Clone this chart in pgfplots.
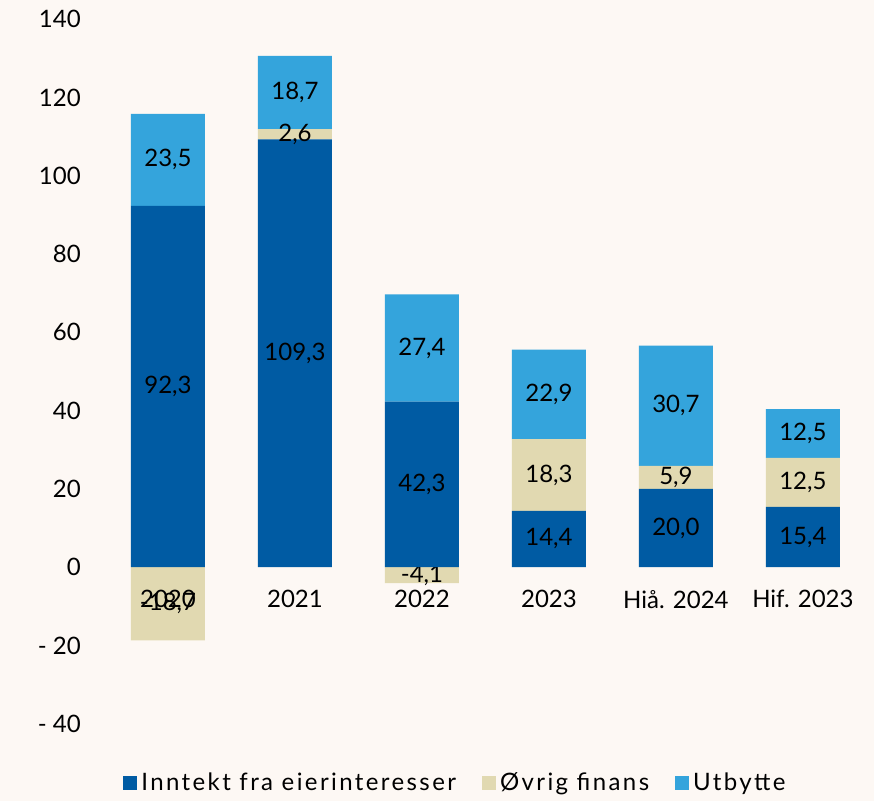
\documentclass[border=0pt]{standalone}
\usepackage{pgfplots}
\pgfplotsset{compat=1.18}
\usepackage{fontspec}
\setmainfont{Lato}
\newfontfamily\legfont[LetterSpace=10]{Lato}
\definecolor{bg}{RGB}{253,248,244}
\definecolor{inntekt}{RGB}{0,91,163}
\definecolor{finans}{RGB}{225,217,177}
\definecolor{utbytte}{RGB}{52,164,220}

\pgfkeys{/pgf/number format/.cd, fixed, fixed zerofill, precision=1, use comma, assume math mode=true}
\pgfplotsset{
  base/.style={
    scale only axis, width=390.5pt, height=352.3pt,
    xmin=-0.6, xmax=5.55, ymin=-40, ymax=140,
    clip=false, bar width=37pt,
    font=\fontsize{12}{14}\selectfont,
    point meta=rawy,
    nodes near coords={\pgfmathfloatifflags{\pgfplotspointmeta}{0}{}{\pgfmathprintnumber{\pgfplotspointmeta}}},
    visualization depends on=rawy \as \rawy,
    every node near coord/.append style={anchor=center, text=black,
      font=\fontsize{12}{14}\selectfont,
      shift={(axis direction cs:0,-\rawy/2)}},
  },
  sqleg/.style={legend image code/.code={\fill[##1] (0pt,-3.5pt) rectangle (7pt,3.5pt);}},
}

\begin{document}
\begin{tikzpicture}
% negative part of "Øvrig finans", below zero
\begin{axis}[base, hide axis, ybar, bar shift=0pt]
\fill[bg] (axis cs:-1.323,144.9) rectangle (axis cs:5.56,-59.8);
\addplot[fill=finans, draw=none] coordinates {(0,-18.7) (2,-4.1)};
\end{axis}

% positive stacks
\begin{axis}[base, ybar stacked,
    axis x line*=middle, axis y line*=left,
    axis line style={draw=none}, major tick length=0,
    xtick={0,1,2,3,4,5},
    xticklabels={2020,2021,2022,2023,Hiå. 2024,Hif. 2023},
    xticklabel style={yshift=-8pt},
    ytick={-40,-20,0,20,40,60,80,100,120,140},
    yticklabels={- 40,- 20,0,20,40,60,80,100,120,140},
    yticklabel style={xshift=-2pt},
    legend columns=3,
    legend style={draw=none, fill=none, at={(0.467,-0.0843)}, anchor=center,
      font=\legfont\fontsize{12}{14}\selectfont,
      /tikz/every even column/.append style={column sep=11pt}},
]
\addplot[fill=inntekt, draw=none, sqleg]
  coordinates {(0,92.3) (1,109.3) (2,42.3) (3,14.4) (4,20.0) (5,15.4)};
\addlegendentry{Inntekt fra eierinteresser}
\addplot[fill=finans, draw=none, sqleg]
  coordinates {(0,0) (1,2.6) (2,0) (3,18.3) (4,5.9) (5,12.5)};
\addlegendentry{Øvrig finans}
\addplot[fill=utbytte, draw=none, sqleg]
  coordinates {(0,23.5) (1,18.7) (2,27.4) (3,22.9) (4,30.7) (5,12.5)};
\addlegendentry{Utbytte}
\end{axis}
\end{tikzpicture}
\end{document}
